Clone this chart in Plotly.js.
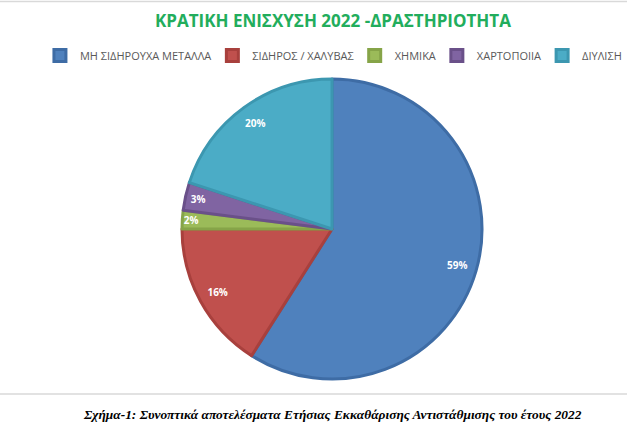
<!DOCTYPE html>
<html><head><meta charset="utf-8">
<script src="https://cdn.plot.ly/plotly-3.0.1.min.js"></script>
<style>html,body{margin:0;padding:0;background:#fff}#c{width:627px;height:427px}</style>
</head><body><div id="c"></div>
<script>
const categories = ["ΜΗ ΣΙΔΗΡΟΥΧΑ ΜΕΤΑΛΛΑ", "ΣΙΔΗΡΟΣ / ΧΑΛΥΒΑΣ", "ΧΗΜΙΚΑ", "ΧΑΡΤΟΠΟΙΙΑ", "ΔΙΥΛΙΣΗ"];
const shares = [59, 16, 2, 3, 20];
const colors = ["#4F81BD", "#C0504D", "#9BBB59", "#8064A2", "#4BACC6"];
const edgeColors = ["#3E6CA5", "#A8403D", "#86A448", "#6A5089", "#3C97B0"];
const titleText = "ΚΡΑΤΙΚΗ ΕΝΙΣΧΥΣΗ 2022 -ΔΡΑΣΤΗΡΙΟΤΗΤΑ";
const captionText = "Σχήμα-1: Συνοπτικά αποτελέσματα Ετήσιας Εκκαθάρισης Αντιστάθμισης του έτους 2022";

const pieDomain = {x: [182/627, 482/627], y: [1 - 379/427, 1 - 79/427]};

const slices = {
  type: "pie",
  labels: categories,
  values: shares,
  sort: false,
  direction: "clockwise",
  rotation: 0,
  marker: {colors: colors, line: {color: edgeColors, width: 3}},
  textinfo: "none",
  hoverinfo: "label+percent",
  domain: pieDomain
};

const labelRing = {
  type: "pie",
  labels: categories,
  values: shares,
  sort: false,
  direction: "clockwise",
  rotation: 0,
  hole: 0.74,
  showlegend: false,
  marker: {colors: colors.map(() => "rgba(0,0,0,0)"), line: {width: 0}},
  texttemplate: "%{percent:.0%}",
  textposition: "inside",
  insidetextorientation: "horizontal",
  textfont: {family: "Open Sans, sans-serif", size: 10, color: "#ffffff", weight: "bold"},
  hoverinfo: "skip",
  domain: pieDomain
};

const layout = {
  width: 627, height: 427,
  margin: {l: 0, r: 0, t: 0, b: 0},
  paper_bgcolor: "#ffffff",
  showlegend: true,
  uniformtext: {minsize: 10, mode: "show"},
  legend: {
    orientation: "h", x: 0.535, xanchor: "center", y: 1 - 41/427, yanchor: "top",
    font: {family: "Open Sans, sans-serif", size: 11, color: "#595959"},
    itemwidth: 30, indentation: -4, traceorder: "normal"
  },
  annotations: [
    {text: "<b>" + titleText + "</b>", xref: "paper", yref: "paper", x: 0.531, y: 1 - 20/427,
     xanchor: "center", yanchor: "middle", showarrow: false,
     font: {family: "Open Sans, sans-serif", size: 17, color: "#22AD5C"}},
    {text: "<b><i>" + captionText + "</i></b>", xref: "paper", yref: "paper", x: 0.53, y: 1 - 414/427,
     xanchor: "center", yanchor: "middle", showarrow: false,
     font: {family: "Liberation Serif, Times New Roman, serif", size: 13.4, color: "#000000"}}
  ],
  shapes: [
    {type: "line", xref: "paper", yref: "paper", x0: 0, x1: 1, y0: 1 - 1.5/427, y1: 1 - 1.5/427, line: {color: "#D9D9D9", width: 1.5}},
    {type: "line", xref: "paper", yref: "paper", x0: 0, x1: 1, y0: 1 - 394/427, y1: 1 - 394/427, line: {color: "#D9D9D9", width: 1.5}}
  ]
};

Plotly.newPlot("c", [slices, labelRing], layout, {displayModeBar: false, staticPlot: true});
</script></body></html>
